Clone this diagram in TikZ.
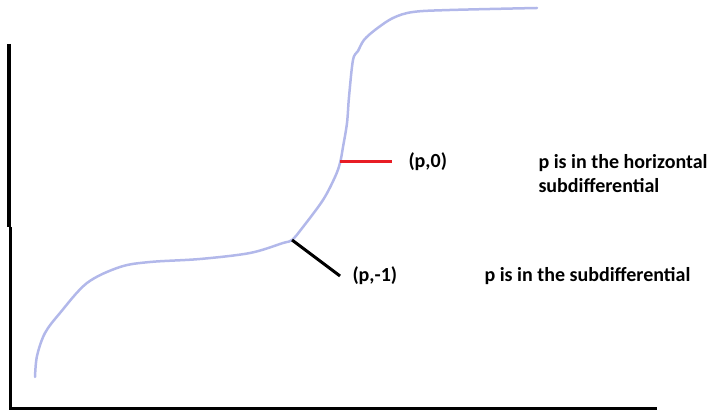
\documentclass[tikz,border=0pt]{standalone}
\usepackage{fontspec}
\setmainfont{Carlito}
\usepackage{tikz}
\usetikzlibrary{arrows.meta}
\definecolor{curveblue}{RGB}{178,184,234}
\definecolor{tanred}{RGB}{232,28,36}
\tikzset{lbl/.style={anchor=west,inner sep=0pt,font=\fontsize{20}{24}\selectfont\bfseries}}

\begin{document}
\begin{tikzpicture}[x=1pt,y=1pt,line width=1pt]
        \useasboundingbox (0,0) rectangle (722,411);
        % axes
        \draw[line width=3.5pt] (9,367)--(9,184);
        \draw[line width=3pt] (10,184)--(10,2)--(657,2);
        % the function
        \draw[curveblue,line width=2.5pt,line cap=round] plot[smooth,tension=0.55] coordinates
          {(35,34) (37,55) (45,78) (60,98) (87,128) (120,144) (150,149) (200,152) (250,158) (283,168)
           (292,171) (303,184) (323,211) (335,234) (340,248) (343,264) (347,288) (349,314) (353,351)
           (358,360) (364,371) (375,381) (393,393) (413,399) (450,401) (537,403)};
        \coordinate (P) at (292,171);
        \coordinate (Q) at (340,249);
        \coordinate (Pend) at (340,135);
        \coordinate (Qend) at (392,249);
        \draw[line width=3pt] (P)--(Pend);
        \draw[tanred,line width=3pt] (Q)--(Qend);
        \node[lbl] (hz) at(408,249){(p,0)};
        \node[lbl] (sub) at(352,135){(p,-1)};
        \node[lbl,align=left] (hztext) at(538,237){p is in the horizontal\\subdifferential};
        \node[lbl] (subtext) at(484,135){p is in the subdifferential};
    \end{tikzpicture}
\end{document}
